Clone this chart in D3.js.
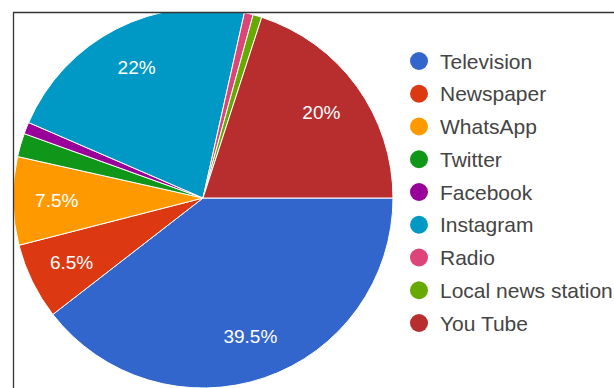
<!DOCTYPE html>
<html>
<head>
<meta charset="utf-8">
<script src="https://cdn.jsdelivr.net/npm/d3@7"></script>
<style>
  body { margin: 0; background: #fff; }
  svg { display: block; font-family: "Liberation Sans", Arial, sans-serif; }
</style>
</head>
<body>
<svg id="chart"></svg>
<script>
// media sources, in legend order
const categories = ["Television", "Newspaper", "WhatsApp", "Twitter", "Facebook",
                    "Instagram", "Radio", "Local news station", "You Tube"];
// share of respondents, percent
const shares = [39.5, 6.5, 7.5, 2, 1, 22, 0.75, 0.75, 20];
// google charts default palette
const colors = ["#3366cc", "#dc3912", "#ff9900", "#109618", "#990099",
                "#0099c6", "#dd4477", "#66aa00", "#b82e2e"];

const width = 614, height = 388;
const cx = 203, cy = 198, radius = 190;

const svg = d3.select("#chart").attr("width", width).attr("height", height);

// the screenshot is cropped at the frame, so the pie is too
svg.append("clipPath").attr("id", "frame")
  .append("rect").attr("x", 14).attr("y", 13).attr("width", width).attr("height", height);

const data = categories.map((c, i) => ({ name: c, value: shares[i], color: colors[i] }));

const pie = d3.pie()
  .sort(null)
  .value(d => d.value)
  .startAngle(Math.PI / 2)
  .endAngle(Math.PI / 2 + 2 * Math.PI);

const arc = d3.arc().innerRadius(0).outerRadius(radius);
const labelArc = d3.arc().innerRadius(radius * 0.77).outerRadius(radius * 0.77);

const g = svg.append("g")
  .attr("clip-path", "url(#frame)")
  .append("g")
  .attr("transform", "translate(" + cx + "," + cy + ")");

const arcs = pie(data);

g.selectAll("path.slice")
  .data(arcs)
  .enter()
  .append("path")
  .attr("class", "slice")
  .attr("d", arc)
  .attr("fill", d => d.data.color)
  .attr("stroke", "#fff")
  .attr("stroke-width", 1);

// only slices big enough get a label
g.selectAll("text.pct")
  .data(arcs.filter(d => d.data.value >= 5))
  .enter()
  .append("text")
  .attr("class", "pct")
  .attr("transform", d => "translate(" + labelArc.centroid(d) + ")")
  .attr("text-anchor", "middle")
  .attr("dominant-baseline", "central")
  .attr("fill", "#fff")
  .attr("font-size", 19)
  .text(d => d.data.value + "%");

// legend
const ly = d3.scalePoint().domain(categories).range([61, 323]);

const legend = svg.selectAll("g.legend")
  .data(data)
  .enter()
  .append("g")
  .attr("class", "legend")
  .attr("transform", d => "translate(419," + ly(d.name) + ")");

legend.append("circle")
  .attr("r", 9)
  .attr("fill", d => d.color);

legend.append("text")
  .attr("x", 21)
  .attr("dominant-baseline", "central")
  .attr("font-size", 21)
  .attr("fill", "#444")
  .text(d => d.name);

// frame of the original screenshot (top and left edges only)
svg.append("path")
  .attr("d", "M13.5," + height + "V12.5H" + width)
  .attr("fill", "none")
  .attr("stroke", "#333")
  .attr("stroke-width", 1.3);
</script>
</body>
</html>
